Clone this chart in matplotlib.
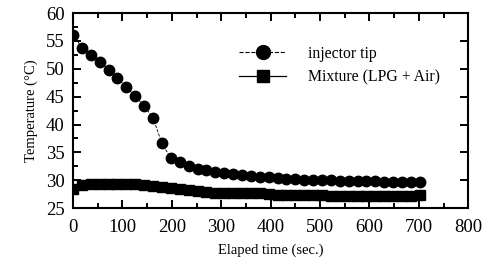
import matplotlib

matplotlib.use("Agg")
import matplotlib.pyplot as plt
from matplotlib.lines import Line2D
from matplotlib.ticker import MultipleLocator

plt.rcParams["font.family"] = ["Liberation Serif", "DejaVu Serif"]

# elapsed time (sec.), one reading every 18 s
time_s = list(range(0, 703, 18))

injector_tip = [
    56.1, 53.8, 52.4, 51.3, 49.8, 48.3, 46.7, 45.1, 43.3, 41.2,
    36.6, 34.0, 33.2, 32.6, 32.1, 31.8, 31.5, 31.3, 31.1, 30.9,
    30.7, 30.6, 30.5, 30.4, 30.3, 30.2, 30.1, 30.1, 30.0, 30.0,
    29.9, 29.9, 29.8, 29.8, 29.8, 29.7, 29.7, 29.7, 29.7, 29.6,
]

mixture = [
    28.5, 29.2, 29.3, 29.3, 29.3, 29.3, 29.3, 29.3, 29.2, 29.0,
    28.8, 28.6, 28.4, 28.2, 28.0, 27.9, 27.8, 27.7, 27.7, 27.8,
    27.8, 27.7, 27.5, 27.4, 27.4, 27.4, 27.3, 27.3, 27.3, 27.2,
    27.2, 27.2, 27.2, 27.1, 27.1, 27.1, 27.1, 27.1, 27.2, 27.3,
]

labels = ["injector tip", "Mixture (LPG + Air)"]

fig = plt.figure(figsize=(4.85, 2.71), dpi=100)
ax = fig.add_axes([0.1505, 0.232, 0.815, 0.72])

ax.plot(time_s, injector_tip, linestyle="--", linewidth=0.6, color="black",
        marker="o", markersize=7.5, markerfacecolor="black",
        markeredgecolor="black")
ax.plot(time_s, mixture, linestyle="-", linewidth=0.8, color="black",
        marker="s", markersize=7.5, markerfacecolor="black",
        markeredgecolor="black")

ax.set_xlim(0, 800)
ax.set_ylim(25, 60)
ax.xaxis.set_major_locator(MultipleLocator(100))
ax.xaxis.set_minor_locator(MultipleLocator(50))
ax.yaxis.set_major_locator(MultipleLocator(5))
ax.yaxis.set_minor_locator(MultipleLocator(2.5))

ax.tick_params(which="both", direction="in", top=True, right=True, width=1.4)
ax.tick_params(which="major", length=6, labelsize=13.5)
ax.tick_params(which="minor", length=3.5, right=False)
ax.tick_params(axis="x", which="major", pad=8)
ax.tick_params(axis="y", which="major", pad=6)
for sp in ax.spines.values():
    sp.set_linewidth(1.5)

ax.set_xlabel("Elaped time (sec.)", fontsize=10.5, labelpad=5)
ax.set_ylabel("Temperature (\u00b0C)", fontsize=10.5, labelpad=6)

handles = [
    Line2D([], [], linestyle="--", linewidth=0.8, color="black",
           marker="o", markersize=10),
    Line2D([], [], linestyle="-", linewidth=0.9, color="black",
           marker="s", markersize=9),
]
ax.legend(handles, labels, loc="upper left", bbox_to_anchor=(0.385, 0.905),
          frameon=False, fontsize=11.3, handlelength=3.0,
          handletextpad=1.4, labelspacing=0.5)

fig.savefig("out.png", dpi=100)
